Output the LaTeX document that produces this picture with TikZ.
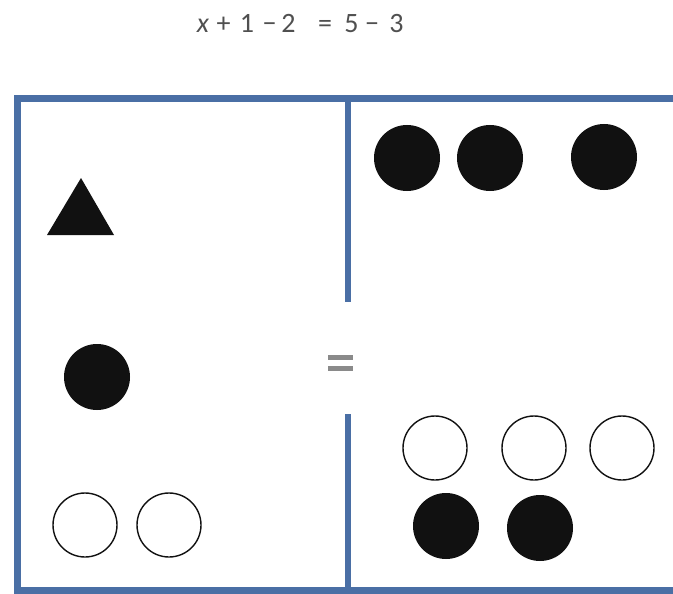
\documentclass[tikz,border=0pt]{standalone}
\usepackage{fontspec}
\setmainfont{Carlito}
\definecolor{framebl}{HTML}{4A6FA5}
\definecolor{txtgray}{HTML}{505050}
\definecolor{eqgray}{HTML}{8A8A8A}
\definecolor{blk}{HTML}{111111}
\tikzset{
  frameline/.style={draw=framebl, line width=7pt, line cap=rect},
  fullc/.style={circle, fill=blk, draw=none, minimum size=66pt, inner sep=0pt},
  openc/.style={circle, draw=blk, line width=1.4pt, fill=white, minimum size=64pt, inner sep=0pt},
  eqglyph/.style={text=txtgray, font=\fontsize{28}{32}\selectfont, inner sep=0pt, anchor=base},
}
\begin{document}
\begin{tikzpicture}[x=1pt,y=-1pt]
\useasboundingbox (0,0) rectangle (673,594);
\fill[white] (0,0) rectangle (673,594);
% equation
\node[eqglyph] (q1) at (203,33) {\itshape x};
\node[eqglyph] (q2) at (223.5,33) {+};
\node[eqglyph] (q3) at (247,33) {1};
\node[eqglyph] (q4) at (269.5,33) {−};
\node[eqglyph] (q5) at (288.5,33) {2};
\node[eqglyph] (q6) at (325,33) {=};
\node[eqglyph] (q7) at (351.5,33) {5};
\node[eqglyph] (q8) at (372,33) {−};
\node[eqglyph] (q9) at (396.5,33) {3};
% frame
\coordinate (tl) at (17,99);
\coordinate (tr) at (676,99);
\coordinate (bl) at (17,590);
\coordinate (br) at (676,590);
\draw[frameline] (tr) -- (tl) -- (bl) -- (br);
\coordinate (mt) at (348,99);
\coordinate (m1) at (348,302);
\coordinate (m2) at (348,414);
\coordinate (mb) at (348,590);
\draw[draw=framebl, line width=6.5pt] (mt) -- (m1);
\draw[draw=framebl, line width=6.5pt] (m2) -- (mb);
% equals sign
\coordinate (e1a) at (328,357);
\coordinate (e1b) at (353,357);
\coordinate (e2a) at (328,368);
\coordinate (e2b) at (353,368);
\draw[eqgray, line width=5pt] (e1a) -- (e1b);
\draw[eqgray, line width=5pt] (e2a) -- (e2b);
% left side
\coordinate (ta) at (81,178);
\coordinate (tb) at (114,235);
\coordinate (tc) at (47,235);
\fill[blk] (ta) -- (tb) -- (tc) -- cycle;
\node[fullc] (l1) at (97,377) {};
\node[openc] (lo1) at (85,525) {};
\node[openc] (lo2) at (169,525) {};
% right side
\node[fullc] (r1) at (407,158) {};
\node[fullc] (r2) at (490,158) {};
\node[fullc] (r3) at (604,157) {};
\node[openc] (ro1) at (435,448) {};
\node[openc] (ro2) at (534,448) {};
\node[openc] (ro3) at (622,448) {};
\node[fullc] (rb1) at (446,526) {};
\node[fullc] (rb2) at (540,528) {};
\end{tikzpicture}
\end{document}
